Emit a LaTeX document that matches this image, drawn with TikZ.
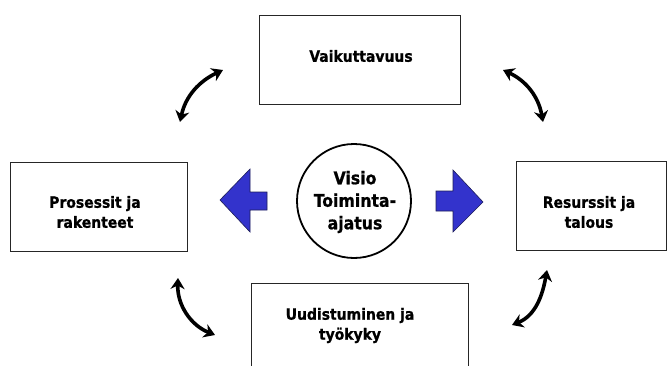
\documentclass[tikz,border=0pt]{standalone}
\usepackage{fontspec}
\setmainfont{DejaVu Sans Condensed}[BoldFeatures={FakeBold=0.8}]
\usetikzlibrary{arrows.meta}
\definecolor{arrowblue}{RGB}{51,51,204}
\definecolor{arrowedge}{RGB}{30,30,90}
\tikzset{
  box/.style={draw=black!85, line width=0.8pt, fill=white, inner sep=0pt},
  boxtext/.style={font=\bfseries\fontsize{15.5}{20}\selectfont, align=center, inner sep=0pt},
  hubtext/.style={font=\bfseries\fontsize{17.5}{22.5}\selectfont, align=center, inner sep=0pt},
  blockarrow/.style={fill=arrowblue, draw=arrowedge, line width=0.6pt, line join=miter},
  swing/.style={line width=3.6pt, {Stealth[length=11pt,width=14pt,inset=3.5pt]}-{Stealth[length=11pt,width=14pt,inset=3.5pt]}}
}
\begin{document}
\begin{tikzpicture}[x=1pt,y=1pt]
  \useasboundingbox (0,0) rectangle (667,365);
  \clip (0,0) rectangle (667,365);
  \fill[white] (0,0) rectangle (667,365);

  % outer boxes
  \node[box, minimum width=201pt, minimum height=89pt] (top) at (359.5,305.5) {};
  \node[boxtext] (toptext) at (361,309) {Vaikuttavuus};

  \node[box, minimum width=177pt, minimum height=89pt] (left) at (98.5,158.5) {};
  \node[boxtext] (lefttext) at (95,153) {Prosessit ja\\rakenteet};

  \node[box, minimum width=150pt, minimum height=89pt] (right) at (591,159.5) {};
  \node[boxtext] (righttext) at (589,153) {Resurssit ja\\talous};

  \node[box, minimum width=217pt, minimum height=120pt] (bottom) at (359.5,22) {};
  \node[boxtext] (bottomtext) at (350,39.5) {Uudistuminen ja\\työkyky};

  % central circle
  \draw[black, line width=1.8pt] (354,164) circle[radius=57];
  \node[hubtext] (hub) at (355,163) {Visio\\Toiminta-\\ajatus};

  % block arrows from the centre
  \draw[blockarrow] (220,165) -- (250,196) -- (250,173) -- (267,173)
        -- (267,155) -- (250,155) -- (250,133) -- cycle;
  \draw[blockarrow] (436,174) -- (453,174) -- (453,195) -- (483,163)
        -- (453,133) -- (453,154) -- (436,154) -- cycle;

  % curved two-way arrows between the boxes
  \coordinate (tlA) at (180,243);
  \coordinate (tlB) at (223,295);
  \coordinate (trA) at (503,295);
  \coordinate (trB) at (543,243);
  \coordinate (blA) at (178,87);
  \coordinate (blB) at (215,30);
  \coordinate (brA) at (512,40);
  \coordinate (brB) at (547,95);
  \draw[swing] (tlA) to[out=78, in=205] (tlB);
  \draw[swing] (trA) to[out=-25, in=100] (trB);
  \draw[swing] (blA) to[out=-92, in=158] (blB);
  \draw[swing] (brA) to[out=22, in=-100] (brB);
\end{tikzpicture}
\end{document}
